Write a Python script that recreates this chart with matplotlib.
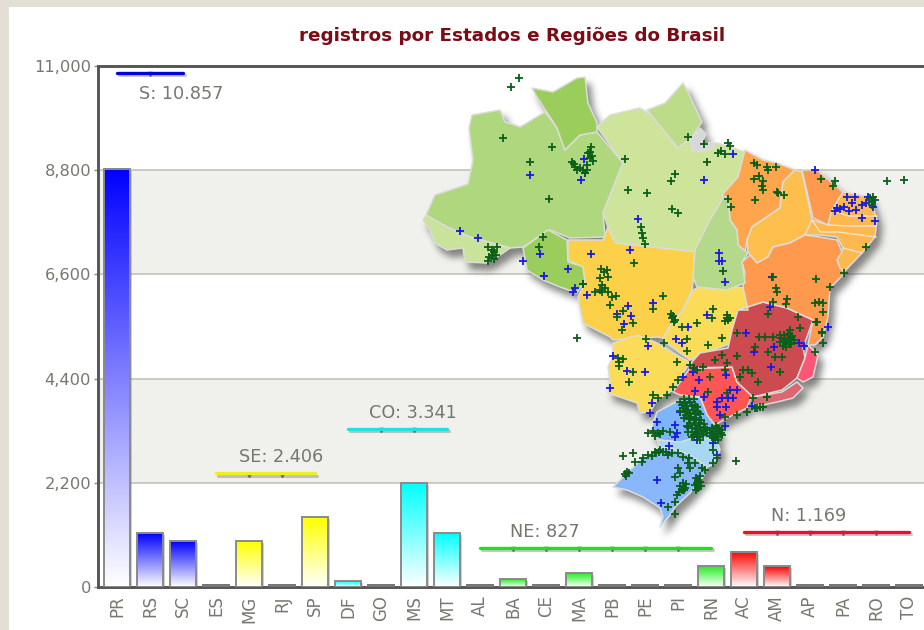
import numpy as np
import matplotlib
matplotlib.use("Agg")
import matplotlib.pyplot as plt
from matplotlib.colors import LinearSegmentedColormap
from matplotlib.patches import Polygon, Rectangle

# bars
states = ["PR","RS","SC","ES","MG","RJ","SP","DF","GO","MS","MT","AL","BA","CE","MA","PB","PE","PI","RN","AC","AM","AP","PA","RO","TO"]
counts = [8830,1140,970,70,970,70,1470,120,70,2190,1140,70,160,70,295,70,70,70,440,740,440,70,70,70,70]
colors = ["#0000ff"]*3 + ["#ffff00"]*4 + ["#00ffff"]*4 + ["#22ee22"]*8 + ["#ff0000"]*6
yticks = [0,2200,4400,6600,8800,11000]

# regional totals
region_labels = ["S: 10.857","SE: 2.406","CO: 3.341","NE: 827","N: 1.169"]
region_values = [10857,2406,3341,827,1169]
region_first = [0,3,7,11,19]
region_last = [2,6,10,18,24]
region_label_x = [1.94,4.97,8.97,12.97,20.94]
region_colors = ["#0000e0","#eeee22","#22e0e0","#22dd22","#e8102a"]

# map outlines, picture pixels
AM = [(426,215),(435,195),(468,184),(473,160),(469,128),(472,115),(500,110),(505,122),(520,127),(545,112),(557,128),(565,150),(580,135),(597,132),(623,163),(603,213),(605,237),(570,238),(550,230),(523,247),(510,248),(470,237),(447,227)]
AC = [(423,220),(426,215),(447,227),(470,237),(510,248),(503,253),(487,263),(465,262),(463,248),(447,250),(435,243),(430,230)]
RR = [(532,88),(553,92),(577,78),(585,77),(588,103),(597,123),(597,132),(580,135),(565,150),(557,128),(537,97)]
PA = [(597,127),(610,115),(640,108),(655,118),(677,148),(692,138),(697,148),(717,143),(745,152),(738,177),(722,195),(723,198),(710,220),(697,252),(615,243),(608,227),(603,213),(623,163)]
AP = [(647,110),(665,103),(683,83),(687,90),(702,122),(692,137),(678,148)]
ILHA = [(690,140),(700,128),(706,134),(700,146),(712,142),(716,148),(697,152),(692,150)]
RO = [(523,248),(548,230),(567,240),(568,262),(585,267),(585,280),(577,293),(560,287),(543,280),(527,270)]
MT = [(568,240),(603,240),(608,227),(615,243),(697,252),(692,290),(683,310),(672,323),(663,338),(658,337),(640,338),(613,340),(610,337),(583,323),(578,297),(585,282),(583,267),(568,260)]
GO = [(693,290),(703,285),(747,288),(747,310),(737,313),(732,343),(713,350),(690,360),(680,353),(665,342),(663,338),(672,323),(683,310)]
MS = [(613,343),(637,335),(655,342),(680,357),(690,362),(673,390),(657,400),(650,412),(640,413),(637,403),(608,393),(610,380),(608,367),(613,357)]
SP = [(673,392),(690,368),(712,368),(732,367),(737,382),(752,395),(747,408),(727,418),(715,425),(707,415),(700,397),(680,395)]
MG = [(692,362),(700,353),(728,348),(732,330),(738,310),(763,302),(787,308),(813,320),(803,348),(805,358),(797,378),(782,390),(753,397),(737,382),(732,367),(690,368)]
ES = [(808,345),(818,355),(813,377),(803,382),(797,378),(805,358)]
RJ = [(797,382),(803,388),(793,398),(777,402),(763,405),(752,405),(753,397),(782,392)]
PR = [(657,412),(680,400),(700,397),(707,415),(715,425),(720,435),(713,440),(700,440),(687,443),(660,440),(650,433)]
SC = [(657,440),(680,442),(697,437),(717,440),(720,450),(713,465),(707,467),(690,455),(670,448),(660,447)]
RS = [(613,487),(627,473),(643,458),(660,448),(670,448),(690,455),(707,467),(703,477),(690,493),(675,507),(670,515),(660,527),(663,517),(660,508),(643,497),(627,490)]
MA = [(745,150),(763,160),(777,163),(795,170),(783,182),(780,208),(752,227),(747,240),(745,253),(738,245),(737,230),(730,220),(728,198),(722,195),(738,177)]
PI = [(795,170),(802,172),(812,220),(805,235),(790,243),(773,247),(768,257),(757,263),(748,252),(747,240),(752,227),(780,208),(783,182)]
CE = [(802,170),(817,170),(843,192),(832,210),(828,225),(813,218)]
NE_EAST = [(843,192),(870,197),(877,220),(875,237),(862,253),(843,273),(840,268),(837,260),(843,248),(837,237),(820,235),(805,235),(812,220),(828,225),(832,210)]
BA = [(742,262),(750,255),(757,263),(768,257),(773,247),(790,243),(805,235),(820,237),(837,240),(842,252),(837,260),(840,268),(845,273),(830,288),(828,317),(823,337),(815,345),(808,345),(813,320),(787,308),(763,302),(738,310),(748,310),(743,287),(745,273)]
TO = [(710,220),(723,198),(728,198),(730,220),(737,230),(738,245),(748,253),(742,262),(745,283),(727,290),(697,287),(693,277),(695,250)]
map_shapes = [AM,AC,RR,PA,AP,ILHA,RO,MT,GO,MS,SP,MG,ES,RJ,PR,SC,RS,MA,PI,CE,NE_EAST,BA,TO]
map_colors = ["#aed77e","#c9e39a","#9acd5c","#cde49a","#bcdc8a","#d8d8d8","#9acd5c","#fcd048","#fbdc58","#fbdc58","#ff5555","#cc4b50","#ff5577","#dd6670","#7db4fa","#a6d8f2","#88b8fb","#ffa64d","#ffbf4d","#ff994d","#ffb84d","#ff994d","#b5d98a"]
ne_borders = [[(832,210),(848,216),(877,216)],[(828,225),(850,226),(876,226)],[(812,220),(820,232),(838,232),(876,237)],[(843,248),(862,253)]]

# occurrence points, picture pixels
green_pts = [(519,78),(511,87),(503,138),(552,147),(530,162),(549,199),(591,147),(588,153),(590,158),(593,161),(587,165),(572,162),(575,167),(580,168),(585,173),(625,159),(628,190),(647,193),(672,209),(678,213),(671,181),(675,174),(688,137),(704,144),(707,162),(718,153),(641,227),(642,233),(643,238),(645,244),(543,237),(539,247),(488,247),(492,250),(497,247),(496,255),(494,259),(488,261),(634,263),(583,284),(663,296),
(728,143),(730,146),(721,151),(725,154),(754,163),(757,165),(767,167),(768,170),(776,167),(754,179),(759,176),(763,181),(762,186),(763,190),(777,192),(778,193),(784,195),(755,200),(728,199),(731,207),(821,179),(835,181),(833,186),(887,181),(904,180),(872,202),(870,198),(866,247),(844,273),(816,279),(830,287),(776,288),(777,292),(773,277),(787,299),(786,304),(773,302),(768,314),(815,303),(819,302),(823,303),(823,312),(798,317),(816,322),(822,333),(723,271),
(601,269),(607,270),(608,277),(602,285),(595,292),(602,292),(608,292),(616,296),(610,305),(583,284),(653,309),(623,311),(617,317),(633,323),(622,330),(673,316),(672,318),(675,320),(682,327),(697,323),(713,309),(712,318),(727,318),(728,320),(722,338),(708,345),(687,339),(687,351),(664,343),(646,339),(677,362),(619,362),(618,358),(633,372),(629,382),(577,338),
(737,333),(759,337),(773,337),(765,337),(790,330),(800,328),(817,322),(822,332),(823,343),(815,352),(737,356),(755,347),(768,352),(775,357),(782,357),(722,355),(715,360),(727,363),(743,370),(748,370),(752,373),(740,377),(758,382),(780,372),(767,397),(753,398),(760,407),(755,408),(780,335),(785,338),(790,340),(786,344),(783,342),(792,336),
(727,393),(725,417),(737,415),(747,412),(757,408),(763,407),(767,397),(725,370),(710,377),(708,392),(703,367),(678,380),(673,387),(653,395),(658,398),(667,395),
(680,402),(685,403),(690,402),(695,405),(683,408),(688,410),(693,410),(698,412),(686,415),(691,417),(696,418),(701,420),(690,423),(695,425),(700,427),(705,428),(695,432),(703,435),(692,437),(700,440),
(712,428),(718,428),(722,430),(710,433),(716,434),(722,435),(713,438),(718,440),(648,433),(653,431),(658,433),(655,436),(663,431),(660,434),(670,432),(688,427),(697,433),(707,433),(715,440),(713,450),(717,458),(713,463),(736,461),
(623,456),(633,453),(635,462),(643,458),(642,462),(648,455),(655,452),(659,452),(663,452),(672,453),(678,453),(683,457),(689,458),(688,463),(695,463),(690,468),(678,468),(680,473),(675,477),(627,472),(625,474),(702,468),(705,470),(698,480),(697,483),(698,488),(683,483),(685,488),(682,490),(677,495),(675,502),(668,507),(675,514)]
green_dense = [(684,399),(689,399),(694,399),(682,405),(687,406),(692,406),(697,407),(680,411),(685,412),(690,413),(695,414),(700,414),(684,418),(689,419),(694,420),(699,423),(704,424),(687,426),(692,428),(697,429),(702,431),(707,430),(694,435),(699,437),(688,432),
(714,431),(719,431),(712,436),(717,437),(721,433),(716,426),
(781,338),(784,335),(788,334),(791,338),(794,340),(780,342),(785,341),(789,343),(786,347),(783,346),(791,344),
(660,450),(656,453),(666,452),(652,456),(668,455),(696,478),(700,482),(695,485),(701,486),(696,490),(700,476),(680,486),(684,490),(679,492),(686,484),(626,476),(629,473),
(574,164),(577,170),(583,170),(587,170),(590,152),(592,156),(492,255),(494,252),(489,257),(872,205),(875,200),(873,197),
(600,290),(605,288),(612,297),(600,278),(604,272),(674,322),(671,314),(727,315),(725,321),(730,318),(623,359),(619,366),(694,368),(690,365),(697,370)]
blue_pts = [(530,175),(584,159),(585,173),(581,180),(460,231),(478,238),(540,254),(523,261),(544,276),(568,269),(575,288),(573,292),(591,254),(630,250),(638,219),(704,180),(587,295),(733,154),(815,170),(847,197),(855,197),(852,203),(837,208),(835,211),(840,209),(844,207),(849,211),(856,210),(862,205),(866,203),(868,197),(873,207),(862,218),(875,221),(719,253),(719,261),(722,261),(725,282),(772,277),(770,307),(828,327),(746,333),
(653,303),(628,306),(617,314),(631,316),(624,324),(688,327),(707,315),(676,339),(682,343),(648,346),(613,356),(627,371),(645,372),(610,388),(683,377),(694,368),(693,372),(699,380),(695,391),(754,352),(774,347),(771,367),(726,375),(799,343),(804,346),
(704,397),(717,402),(722,398),(728,398),(733,398),(730,390),(737,390),(726,407),(717,407),(720,415),(752,406),(725,426),(697,440),(652,403),(650,413),(657,422),(675,425),(677,433),(675,437),(669,446),(713,443),(717,455),(657,480),(661,503),(680,412)]

W, H = 924, 630
fig = plt.figure(figsize=(W/100, H/100), dpi=100, facecolor="#e4dfd5")
fig.patches.append(Rectangle((9/W, 0), 1, 1-7/H, transform=fig.transFigure, facecolor="white", edgecolor="none", zorder=-5))

ax = fig.add_axes([98/W, 1-587/H, 1-98/W, (587-66)/H])
xs = np.arange(len(states))
ax.set_facecolor("white")

# bands
for lo, hi in [(6600,8800),(2200,4400)]:
    ax.axhspan(lo, hi, facecolor="#f0f0ec", edgecolor="none", zorder=0)
for y in yticks[1:-1]:
    ax.axhline(y, color="#bdbdb8", lw=1.1, zorder=1)

# bars with vertical fade
grad = np.linspace(1, 0, 256).reshape(-1, 1)
for x, v, c in zip(xs, counts, colors):
    if v <= 70:
        ax.bar(x, v, width=0.84, color="#777777", zorder=3)
        continue
    ax.bar(x+0.06, v, width=0.79, bottom=-40, color="#555555", alpha=0.28, zorder=2)
    cmap = LinearSegmentedColormap.from_list("fade", ["#ffffff", c])
    ax.imshow(grad, cmap=cmap, vmin=0, vmax=1, extent=[x-0.39, x+0.39, 0, v], aspect="auto", zorder=3, interpolation="bilinear")
    ax.bar(x, v, width=0.79, facecolor="none", edgecolor="#8a8a8a", lw=1.4, zorder=4)

# region lines
for lab, v, a, b, lx, c in zip(region_labels, region_values, region_first, region_last, region_label_x, region_colors):
    ax.plot([a+0.06, b+0.06], [v-55, v-55], color="#666666", alpha=0.35, lw=2.2, zorder=4, solid_capstyle="round")
    inner = np.arange(a+1, b)
    ax.plot(inner, [v-35]*len(inner), ls="none", marker="v", ms=3, color="#666666", zorder=4)
    ax.plot([a, b], [v, v], color=c, lw=2.4, zorder=5, solid_capstyle="round")
    off = -21 if lab.startswith("S:") else 16
    ax.annotate(lab, (lx, v), xytext=(0, off*0.72), textcoords="offset points", ha="center", va="center", fontsize=12.7, color="#777770", zorder=6)

ax.set_xlim(-0.576, 24.45)
ax.set_ylim(0, 11000)
ax.set_xticks(xs)
ax.set_xticklabels(states, rotation=90, fontsize=12, color="#777770")
ax.set_yticks(yticks)
ax.set_yticklabels(["{:,}".format(t) for t in yticks], fontsize=11.7, color="#777770")
ax.tick_params(axis="x", length=0, pad=6)
ax.tick_params(axis="y", length=3, width=1, color="#888888", pad=2)
ax.spines["right"].set_visible(False)
for s in ["left", "top", "bottom"]:
    ax.spines[s].set_color("#555555")
    ax.spines[s].set_linewidth(2.1)

fig.text(512/W, 1-36/H, "registros por Estados e Regiões do Brasil", ha="center", va="center", fontsize=13.2, fontweight="bold", color="#7a0c14")

# soft shadow of the map: draw the shapes on a scratch canvas and blur them
scratch = plt.figure(figsize=(W/100, H/100), dpi=100, facecolor="white")
sa = scratch.add_axes([0, 0, 1, 1])
sa.set_xlim(0, W)
sa.set_ylim(H, 0)
sa.axis("off")
for shape in map_shapes:
    sa.add_patch(Polygon(shape, closed=True, facecolor="black", edgecolor="black", lw=1))
scratch.canvas.draw()
mask = 1 - np.asarray(scratch.canvas.buffer_rgba())[:, :, 0] / 255.0
plt.close(scratch)
mask = np.roll(np.roll(mask, 7, axis=0), 5, axis=1)
kernel = np.ones(7) / 7
for i in range(3):
    mask = np.apply_along_axis(np.convolve, 0, mask, kernel, mode="same")
    mask = np.apply_along_axis(np.convolve, 1, mask, kernel, mode="same")
shadow = np.zeros((H, W, 4))
shadow[:, :, :3] = 0.25
shadow[:, :, 3] = 0.62 * mask

# map on its own pixel axes
mp = fig.add_axes([0, 0, 1, 1], facecolor="none")
mp.axis("off")
mp.imshow(shadow, extent=(0, W, H, 0), aspect="auto", interpolation="nearest", zorder=1)
for shape, c in zip(map_shapes, map_colors):
    mp.add_patch(Polygon(shape, closed=True, facecolor=c, edgecolor="#dcdcd8", lw=1.1, joinstyle="round", zorder=2))
for line in ne_borders:
    mp.plot([p[0] for p in line], [p[1] for p in line], color="#f2e4cc", lw=1, zorder=3)
mp.plot([p[0] for p in blue_pts], [p[1] for p in blue_pts], ls="none", marker="+", ms=5.5, mew=1.3, color="#1a1ae0", zorder=4)
all_green = green_pts + green_dense
mp.plot([p[0] for p in all_green], [p[1] for p in all_green], ls="none", marker="+", ms=5.5, mew=1.3, color="#0a5f1a", zorder=5)
mp.set_xlim(0, W)
mp.set_ylim(H, 0)

fig.savefig("out.png", dpi=100, facecolor=fig.get_facecolor())
